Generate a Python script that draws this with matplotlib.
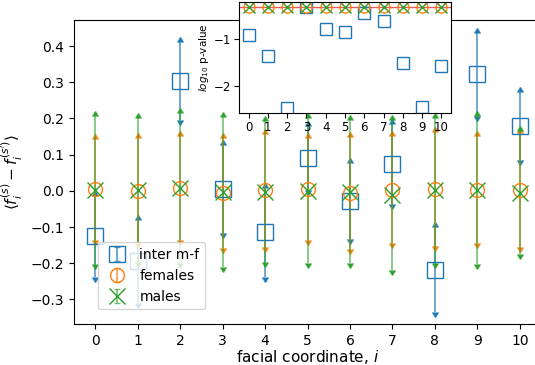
import numpy as np
import matplotlib
matplotlib.use('Agg')
import matplotlib.pyplot as plt

# facial coordinates
coords = list(range(11))

# mean differences and error half-widths
inter_mean = [-0.126, -0.195, 0.303, 0.005, -0.115, 0.090, -0.028, 0.074, -0.218, 0.322, 0.180]
inter_err = [0.113, 0.115, 0.108, 0.122, 0.122, 0.088, 0.106, 0.110, 0.117, 0.115, 0.094]
fem_mean = [0.004, 0.000, 0.008, -0.006, 0.002, 0.005, -0.005, 0.003, 0.005, 0.003, 0.003]
fem_err = [0.140, 0.145, 0.143, 0.153, 0.156, 0.142, 0.155, 0.148, 0.157, 0.148, 0.157]
male_mean = [0.003, 0.001, 0.008, -0.003, -0.002, 0.000, -0.002, -0.012, 0.001, 0.003, -0.005]
male_err = [0.205, 0.199, 0.207, 0.208, 0.195, 0.200, 0.197, 0.208, 0.200, 0.204, 0.170]

# log10 p-values for the inset
inter_logp = [-0.91, -1.37, -2.48, -0.31, -0.78, -0.84, -0.44, -0.60, -1.52, -2.47, -1.57]
fem_logp = [-0.30] * 11
male_logp = [-0.30] * 11
ref_line = np.log10(0.5)

# caret size at the ends of the error bars
plt.rcParams['lines.markersize'] = 4.5

fig = plt.figure(figsize=(5.35, 3.65), dpi=100)
ax = fig.add_axes([74/535, 41/365, 467/535, 304/365])

series = [
    (inter_mean, inter_err, 's', 11, 'C0', (0.12, 0.47, 0.71, 0.75), 'inter m-f'),
    (fem_mean, fem_err, 'o', 10, 'C1', (1.0, 0.5, 0.05, 0.75), 'females'),
    (male_mean, male_err, 'x', 12, 'C2', (0.17, 0.63, 0.17, 0.65), 'males'),
]
for mean, err, mk, ms, col, ecol, lab in series:
    mfc = 'none' if mk != 'x' else col
    # upper half with up-caret
    ax.errorbar(coords, mean, yerr=err, lolims=True, linestyle='none', marker=mk,
                ms=ms, mfc=mfc, color=col, ecolor=ecol, capsize=0,
                elinewidth=1.2, label=lab)
    # lower half with down-caret
    ax.errorbar(coords, mean, yerr=err, uplims=True, linestyle='none', marker='none',
                color=col, ecolor=ecol, capsize=0, elinewidth=1.2)

ax.set_xticks(coords)
ax.set_xlim(-0.5, 10.5)
ax.set_ylim(-0.368, 0.472)
ax.set_xlabel('facial coordinate, $i$', fontsize=11, labelpad=0)
ax.set_ylabel(r"$\langle f^{(s)}_i - f^{(s')}_i \rangle$", fontsize=11)
ax.tick_params(labelsize=10)
ax.legend(loc='lower left', bbox_to_anchor=(0.036, 0.025), fontsize=10,
          handletextpad=0.6, borderpad=0.4)

# inset with p-values
axin = fig.add_axes([239/535, 1 - 113/365, 212/535, 111/365])
axin.axhline(ref_line, color='tab:red', alpha=0.75, lw=1)
axin.plot(coords, inter_logp, 's', ms=8, mfc='none', color='C0')
axin.plot(coords, fem_logp, 'o', ms=8, mfc='none', color='C1')
axin.plot(coords, male_logp, 'x', ms=8, color='C2')
axin.set_xticks(coords)
axin.set_xlim(-0.5, 10.5)
axin.set_ylim(-2.59, -0.196)
axin.set_yticks([-2, -1])
axin.tick_params(labelsize=8.5, pad=2)
axin.set_ylabel('$log_{10}$ p-value', fontsize=7.5, labelpad=2)

fig.savefig('out.png', dpi=100)
